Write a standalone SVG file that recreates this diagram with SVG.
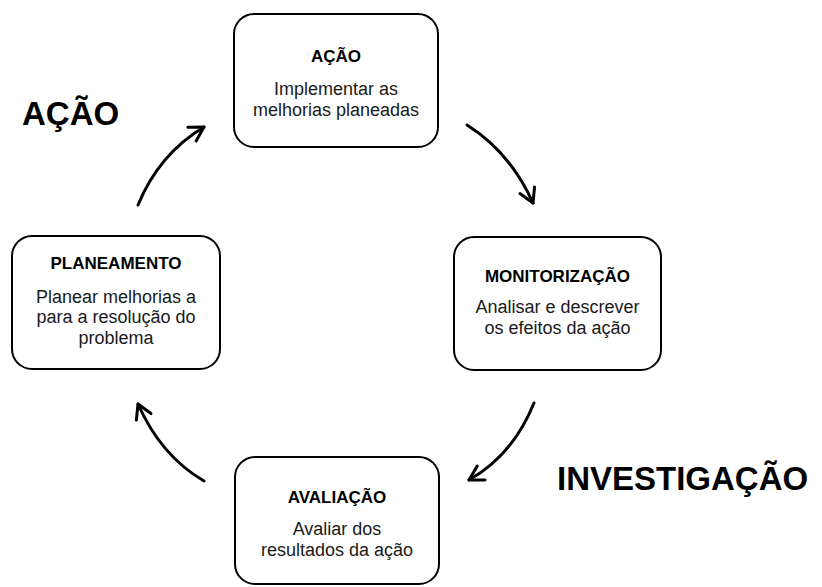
<svg xmlns="http://www.w3.org/2000/svg" width="822" height="587" viewBox="0 0 822 587">
<style>
.box{fill:#fff;stroke:#000;stroke-width:2}
.t{font-family:"Liberation Sans",Arial,sans-serif;font-weight:bold;font-size:17px;fill:#000;text-anchor:middle}
.b{font-family:"Liberation Sans",Arial,sans-serif;font-size:18px;fill:#1a1a1a;text-anchor:middle}
.big{font-family:"Liberation Sans",Arial,sans-serif;font-weight:bold;font-size:33px;fill:#000}
.arr{fill:none;stroke:#000;stroke-width:3;stroke-linecap:round;marker-end:url(#ah)}
</style>
<defs>
<marker id="ah" markerUnits="userSpaceOnUse" viewBox="-18 -12 22 24" markerWidth="22" markerHeight="24" refX="0" refY="0" orient="auto" overflow="visible">
<path d="M-14,-8 L0,0 L-14,8" fill="none" stroke="#000" stroke-width="3" stroke-linecap="round" stroke-linejoin="round"/>
</marker>
</defs>
<rect width="822" height="587" fill="#fff"/>
<g id="connectors">
<path class="arr" d="M138,205 Q159,154 204,127"/>
<path class="arr" d="M467,125 Q510,152 533,203"/>
<path class="arr" d="M534,403 Q513,455 469,480"/>
<path class="arr" d="M204,481 Q161,456 138,404"/>
</g>
<g id="acao">
<rect class="box" x="234" y="14" width="204" height="133" rx="20"/>
<text class="t" x="336" y="62">AÇÃO</text>
<text class="b" x="336" y="95">Implementar as</text>
<text class="b" x="336" y="116">melhorias planeadas</text>
</g>
<g id="planeamento">
<rect class="box" x="12" y="236" width="208" height="133" rx="20"/>
<text class="t" x="116" y="269">PLANEAMENTO</text>
<text class="b" x="116" y="303">Planear melhorias a</text>
<text class="b" x="116" y="323">para a resolução do</text>
<text class="b" x="116" y="344">problema</text>
</g>
<g id="monitorizacao">
<rect class="box" x="454" y="237" width="207" height="133" rx="20"/>
<text class="t" x="557.5" y="282">MONITORIZAÇÃO</text>
<text class="b" x="557.5" y="313">Analisar e descrever</text>
<text class="b" x="557.5" y="334">os efeitos da ação</text>
</g>
<g id="avaliacao">
<rect class="box" x="235" y="457" width="204" height="127" rx="20"/>
<text class="t" x="337" y="503">AVALIAÇÃO</text>
<text class="b" x="337" y="535">Avaliar dos</text>
<text class="b" x="337" y="556">resultados da ação</text>
</g>
<g id="labels">
<text class="big" x="22" y="125">AÇÃO</text>
<text class="big" x="557" y="490">INVESTIGAÇÃO</text>
</g>
</svg>
